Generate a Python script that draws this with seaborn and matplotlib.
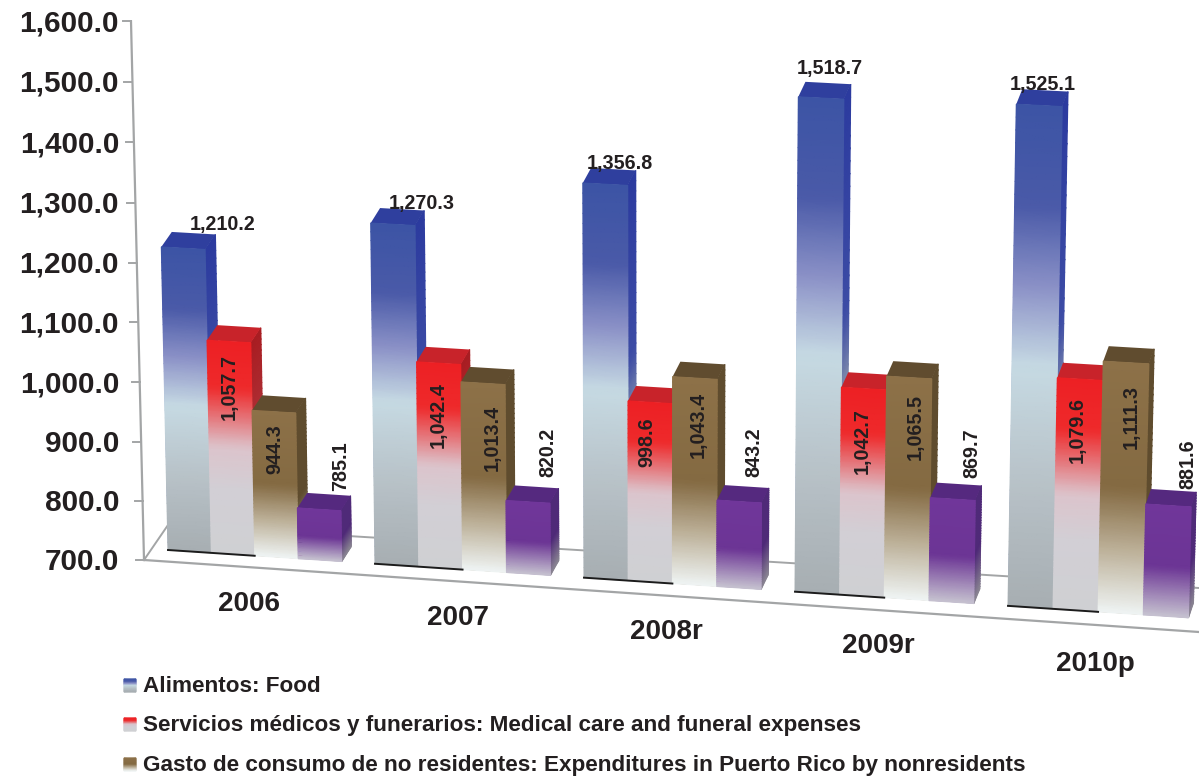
import numpy as np
import pandas as pd
import matplotlib
matplotlib.use("Agg")
import matplotlib.pyplot as plt
from matplotlib.colors import LinearSegmentedColormap
from matplotlib.transforms import Transform
import seaborn as sns

years = ["2006", "2007", "2008r", "2009r", "2010p"]
series = ["Alimentos: Food",
          "Servicios médicos y funerarios: Medical care and funeral expenses",
          "Gasto de consumo de no residentes: Expenditures in Puerto Rico by nonresidents",
          "Otros"]
food = [1210.2, 1270.3, 1356.8, 1518.7, 1525.1]
medical = [1057.7, 1042.4, 998.6, 1042.7, 1079.6]
nonres = [944.3, 1013.4, 1043.4, 1065.5, 1111.3]
other = [785.1, 820.2, 843.2, 869.7, 881.6]
yticks = [700, 800, 900, 1000, 1100, 1200, 1300, 1400, 1500, 1600]

# gradients of the front faces, top to bottom
front_stops = [
    [(0, "#3c54a5"), (.2, "#4a5aa8"), (.37, "#8f95c9"), (.52, "#c6dae3"), (.75, "#b8c2c8"), (1, "#a7aeb2")],
    [(0, "#ed2024"), (.22, "#ee2a2b"), (.5, "#dcc4cc"), (.7, "#d2cfd5"), (1, "#cfd0d3")],
    [(0, "#8d7148"), (.5, "#846a42"), (.75, "#bdb199"), (1, "#eff4f4")],
    [(0, "#70369a"), (.55, "#6c3595"), (1, "#c6c2d0")],
]
side_stops = [
    [(0, "#2c3b9f"), (.45, "#3d4ca5"), (.62, "#8d99ad"), (1, "#8e9599")],
    [(0, "#a81d22"), (.5, "#b0343a"), (1, "#a5a5a9")],
    [(0, "#5f4c2e"), (.6, "#5f4c2e"), (1, "#b0b2ad")],
    [(0, "#4f2a78"), (.55, "#4f2a78"), (1, "#8a8592")],
]
top_colors = ["#2f3f9e", "#c8232a", "#604c2f", "#55297f"]
flat_colors = ["#3c54a5", "#ed2024", "#8d7148", "#70369a"]

# where the value labels sit (centre, in pixels), per series then year
label_xy = [
    [(223, 224), (422, 203), (620, 163), (830, 68), (1043, 84)],
    [(229, 387), (438, 415), (647, 442), (862, 441), (1077, 430)],
    [(275, 449), (492, 438), (698, 425), (915, 427), (1131, 417)],
    [(341, 466), (548, 452), (754, 452), (972, 453), (1188, 464)],
]
year_xy = [(249, 602), (458, 616), (666, 630), (878, 644), (1095, 662)]
FONT = "Liberation Sans"
INK = "#231f20"


def project(x, v, depth=0.0):
    # category position and value -> pixel position in the 3d-looking picture
    x = np.asarray(x, dtype=float)
    v = np.asarray(v, dtype=float)
    i = x + 0.42
    x0 = 168 + 206 * i + i ** 2
    h = (v - 700) * (0.594 + (x0 - 168) / 840 * 0.014)
    px = x0 + (x0 - 650) * h * 4.6e-5 + depth * (10.5 - 5.5 * (x0 - 168) / 1024)
    py = 550 + 0.0665 * (x0 - 168) - h - depth * 15
    return px, py


class Persp(Transform):
    input_dims = output_dims = 2

    def transform_non_affine(self, xy):
        xy = np.asarray(xy, dtype=float)
        px, py = project(xy[:, 0], xy[:, 1])
        return np.column_stack([px, 778 - py])


def axis_y(v):
    d = np.asarray(v, dtype=float) - 700
    return 560 - 0.59 * d - 9.5e-6 * d ** 2


df = pd.DataFrame({
    "year": years * 4,
    "serie": np.repeat(series, 5),
    "value": food + medical + nonres + other,
})

fig = plt.figure(figsize=(11.99, 7.78), dpi=100, facecolor="white")
ax = fig.add_axes([0, 0, 1, 1])
sns.barplot(data=df, x="year", y="value", hue="serie", order=years, hue_order=series,
            palette=flat_colors, width=0.84, gap=0, saturation=1, legend=False, ax=ax)
ax.axis("off")

persp = Persp()
bars = []
for p in ax.patches:
    value = p.get_height()
    p.set_y(700)
    p.set_height(value - 700)
    p.set_transform(persp)
    p.set_clip_on(False)
    p.set_linewidth(0)
    bars.append((p.get_x(), p.get_width(), value))

canvas = fig.add_axes([0, 0, 1, 1])
canvas.set_xlim(0, 1199)
canvas.set_ylim(778, 0)
canvas.axis("off")
canvas.patch.set_alpha(0)

# floor and value axis
grey = "#a3a5a6"
canvas.plot([144, 1199], [560, 632], color=grey, lw=1.6, zorder=1)
canvas.plot([144, 168, 1199], [560, 525, 588], color=grey, lw=1.4, zorder=1)
canvas.plot([131, 144], [axis_y(1600), axis_y(700)], color=grey, lw=1.6, zorder=1)
for v in yticks:
    y = axis_y(v)
    xa = 144 - (560 - y) * 0.0242
    canvas.plot([xa - 8, xa], [y, y], color=grey, lw=1.4, zorder=1)
    canvas.text(119, y - 1, f"{v:,.1f}", ha="right", va="center_baseline", fontsize=21.4,
                fontweight="bold", family=FONT, color=INK)


def face(corners, stops, name, z):
    # corners: top-left, top-right, bottom-left, bottom-right
    t = np.linspace(0, 1, 40)[:, None]
    tl, tr, bl, br = [np.array(c, dtype=float) for c in corners]
    X = np.hstack([tl[0] + (bl[0] - tl[0]) * t, tr[0] + (br[0] - tr[0]) * t])
    Y = np.hstack([tl[1] + (bl[1] - tl[1]) * t, tr[1] + (br[1] - tr[1]) * t])
    C = np.hstack([t, t])
    cmap = LinearSegmentedColormap.from_list(name, stops)
    canvas.pcolormesh(X, Y, C, cmap=cmap, vmin=0, vmax=1, shading="gouraud", zorder=z)


n_years = len(years)
for i in range(n_years):
    for j in range(len(series)):
        x, w, value = bars[j * n_years + i]
        z = 2 + i * 10 + j * 2
        l, r = x, x + w
        # side face
        face([project(r, value), project(r, value, 1), project(r, 700), project(r, 700, 1)],
             side_stops[j], f"s{j}", z)
        # top face
        corners = [project(l, value), project(r, value), project(r, value, 1), project(l, value, 1)]
        canvas.fill([c[0] for c in corners], [c[1] for c in corners], color=top_colors[j], lw=0, zorder=z + 1)
        # front face
        face([project(l, value), project(r, value), project(l, 700), project(r, 700)],
             front_stops[j], f"f{j}", z + 1)
    # dark foot line under the first two bars
    x0 = bars[i][0]
    x1 = bars[n_years + i][0] + bars[n_years + i][1]
    a, b = project(x0, 700), project(x1, 700)
    canvas.plot([a[0], b[0]], [a[1], b[1]], color="#1c1c1c", lw=1.4, zorder=2 + i * 10 + 9)

# value labels
for j, vals in enumerate([food, medical, nonres, other]):
    for i, v in enumerate(vals):
        canvas.text(label_xy[j][i][0], label_xy[j][i][1], f"{v:,.1f}", ha="center", va="center",
                    rotation=0 if j == 0 else 90, fontsize=14.2, fontweight="bold",
                    family=FONT, color=INK, zorder=100)

for (x, y), name in zip(year_xy, years):
    canvas.text(x, y + 2, name, ha="center", va="center", fontsize=20, fontweight="bold",
                family=FONT, color=INK, zorder=100)

# legend (the fourth entry is cut off in the original)
for j, y in enumerate([685, 724, 764]):
    t = np.linspace(0, 1, 20)[:, None]
    X = np.hstack([np.full_like(t, 124), np.full_like(t, 136)])
    Y = np.hstack([y - 6 + 13 * t, y - 6 + 13 * t])
    cmap = LinearSegmentedColormap.from_list(f"l{j}", front_stops[j])
    canvas.pcolormesh(X, Y, np.hstack([t, t]), cmap=cmap, vmin=0, vmax=1, shading="gouraud", zorder=5)
    canvas.text(143, y + 1, series[j], ha="left", va="center", fontsize=16.2, fontweight="bold",
                family=FONT, color=INK, zorder=100)

fig.savefig("out.png", dpi=100, facecolor="white")
